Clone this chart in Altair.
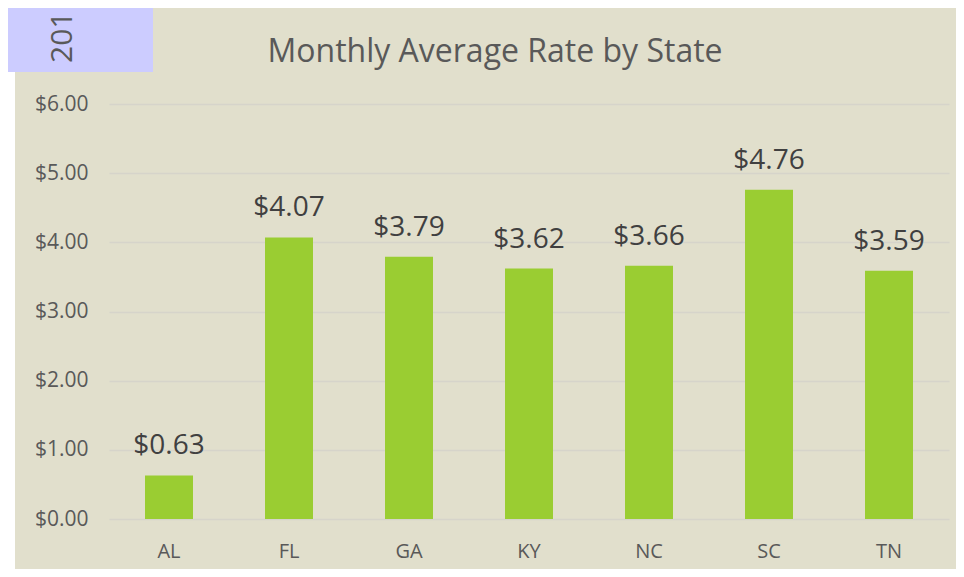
import altair as alt
import pandas as pd

states = ["AL", "FL", "GA", "KY", "NC", "SC", "TN"]
rates = [0.63, 4.07, 3.79, 3.62, 3.66, 4.76, 3.59]
y_ticks = [0, 1, 2, 3, 4, 5, 6]
title_text = "Monthly Average Rate by State"
corner_text = "201"

df = pd.DataFrame({"state": states, "rate": rates})
df["label"] = df["rate"].map(lambda v: f"${v:.2f}")
one = pd.DataFrame({"k": [0]})

FONT = "Open Sans"
GREY = "#595959"

x_enc = alt.X("state:N", sort=states, title=None,
              scale=alt.Scale(paddingInner=0.6, paddingOuter=0.3),
              axis=alt.Axis(labelAngle=0, labelFontSize=20, labelColor=GREY,
                            labelFont=FONT, ticks=False, tickSize=0, domain=False,
                            labelPadding=22, grid=False))
y_enc = alt.Y("rate:Q", title=None,
              scale=alt.Scale(domain=[0, 6], nice=False),
              axis=alt.Axis(values=y_ticks, format="$.2f", labelFontSize=21,
                            labelColor=GREY, labelFont=FONT, ticks=False, tickSize=0,
                            domain=False, labelPadding=21, gridColor="#d6d4ca",
                            gridWidth=1.5))

bars = alt.Chart(df).mark_bar(color="#9acd32").encode(x=x_enc, y=y_enc)
labels = alt.Chart(df).mark_text(fontSize=28, font=FONT, color="#404040",
                                 baseline="alphabetic", dy=-21).encode(
    x=alt.X("state:N", sort=states), y="rate:Q", text="label:N")

white_strip = alt.Chart(one).mark_rect(color="white").encode(
    x=alt.value(-101), x2=alt.value(-94), y=alt.value(-100), y2=alt.value(480))
corner_box = alt.Chart(one).mark_rect(color="#ccccff").encode(
    x=alt.value(-109), x2=alt.value(44), y=alt.value(-104), y2=alt.value(-32))
corner = alt.Chart(one).mark_text(text=corner_text, angle=270, align="left",
                                  baseline="middle", fontSize=30, font=FONT,
                                  color=GREY).encode(
    x=alt.value(-46), y=alt.value(-41))
title = alt.Chart(one).mark_text(text=title_text, fontSize=32, font=FONT,
                                 color=GREY, baseline="alphabetic").encode(
    x=alt.value(386), y=alt.value(-42))

chart = alt.layer(bars, labels, white_strip, corner_box, corner, title).properties(
    width=840, height=415,
    autosize=alt.AutoSizeParams(type="none"),
    padding={"left": 101, "top": 96, "right": 7, "bottom": 50},
    background="#e1dfcc",
).configure_view(stroke=None)

chart.save("out.html", embed_options={"renderer": "svg", "actions": False})
